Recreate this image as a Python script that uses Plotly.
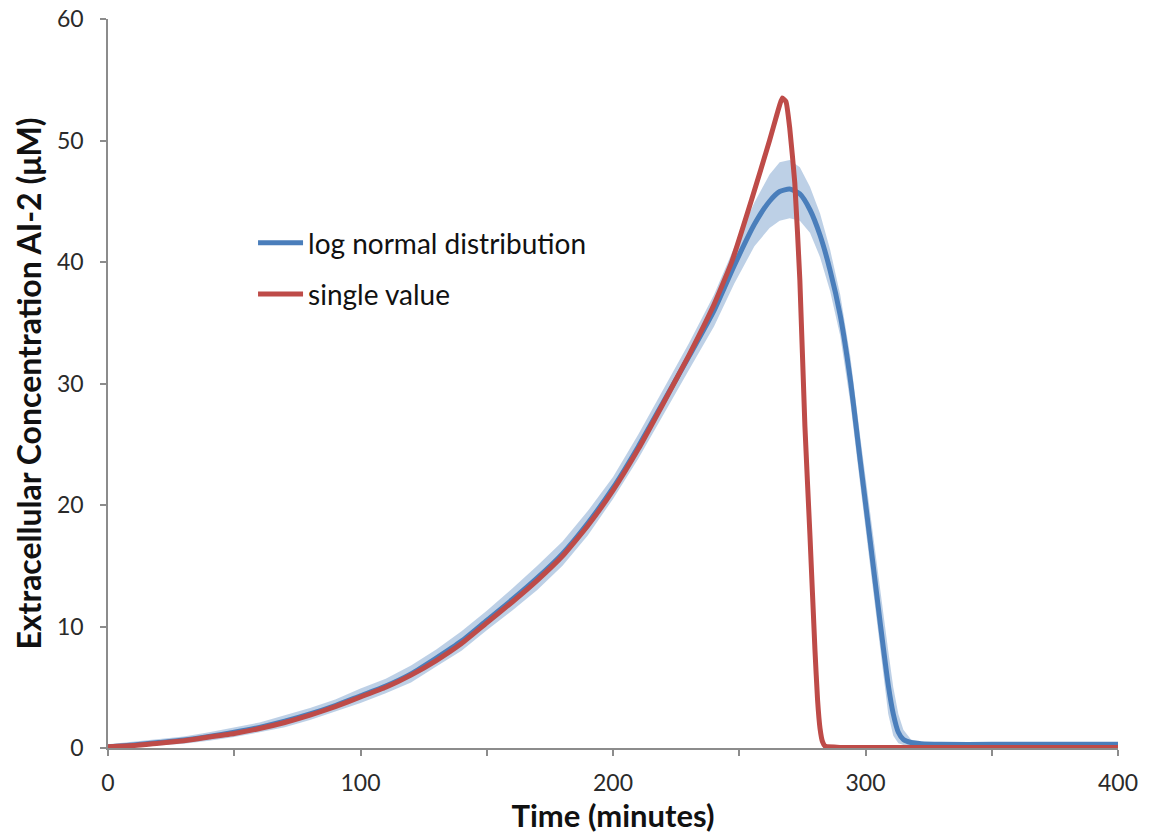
import plotly.graph_objects as go

# ---- data ----
red_t = [0, 10, 20, 30, 40, 50, 60, 70, 80, 90, 100, 110, 120, 130, 140, 150, 160, 170,
         180, 190, 200, 210, 220, 230, 240, 247, 255, 262, 265, 267, 268.5, 270, 272, 274,
         276, 278, 280, 281, 282, 283, 284, 290, 300, 350, 400]
red_v = [0.1, 0.2, 0.4, 0.6, 0.9, 1.2, 1.6, 2.1, 2.7, 3.4, 4.2, 5.0, 6.0, 7.2, 8.6, 10.3, 12.0, 13.8,
         15.8, 18.3, 21.2, 24.6, 28.4, 32.3, 36.5, 40.0, 45.2, 50.0, 52.2, 53.5, 53.2, 51.0, 46.5, 38.5,
         26.5, 17.5, 8.0, 4.0, 1.6, 0.5, 0.15, 0.05, 0.05, 0.05, 0.05]

blue_t = [0, 10, 20, 30, 40, 50, 60, 70, 80, 90, 100, 110, 120, 130, 140, 150, 160, 170,
          180, 190, 200, 210, 220, 230, 240, 248, 256, 262, 266, 270, 274, 278, 282, 286,
          290, 294, 298, 302, 306, 309, 311, 313, 315, 318, 322, 330, 350, 400]
blue_v = [0.1, 0.25, 0.45, 0.65, 0.95, 1.3, 1.7, 2.2, 2.8, 3.5, 4.3, 5.1, 6.1, 7.4, 8.8, 10.5, 12.2, 14.0,
          16.0, 18.5, 21.4, 24.8, 28.5, 32.2, 36.0, 39.7, 43.1, 45.0, 45.8, 46.0, 45.6, 44.3, 42.2, 39.3,
          35.6, 30.3, 23.5, 16.8, 10.0, 5.2, 2.8, 1.3, 0.7, 0.45, 0.35, 0.3, 0.3, 0.3]
blue_hi = [0.3, 0.5, 0.7, 0.95, 1.3, 1.7, 2.1, 2.7, 3.3, 4.0, 4.9, 5.7, 6.8, 8.1, 9.6, 11.3, 13.1, 15.0,
           17.0, 19.5, 22.3, 25.8, 29.5, 33.3, 37.3, 41.2, 44.9, 47.2, 48.2, 48.4, 47.8, 46.2, 44.0, 41.0,
           37.3, 32.2, 25.5, 19.0, 12.5, 8.0, 5.0, 2.8, 1.5, 0.7, 0.5, 0.4, 0.4, 0.4]
blue_lo = [0.0, 0.05, 0.2, 0.35, 0.6, 0.9, 1.3, 1.7, 2.3, 3.0, 3.7, 4.5, 5.4, 6.7, 8.0, 9.7, 11.3, 13.0,
           15.0, 17.5, 20.5, 23.8, 27.5, 31.1, 34.7, 38.2, 41.3, 42.8, 43.4, 43.6, 43.4, 42.4, 40.4, 37.6,
           33.9, 28.4, 21.5, 14.6, 7.5, 2.8, 1.0, 0.4, 0.25, 0.2, 0.2, 0.2, 0.2, 0.2]

x_ticks = [0, 50, 100, 150, 200, 250, 300, 350, 400]
x_labels = ["0", "", "100", "", "200", "", "300", "", "400"]
y_ticks = [0, 10, 20, 30, 40, 50, 60]

BLUE = "#4A7EBB"
RED = "#BE4B48"
BAND = "rgba(185,205,229,0.95)"
FONT = "Lato"

fig = go.Figure()

fig.add_trace(go.Scatter(x=blue_t, y=blue_hi, mode="lines", line=dict(width=0, color=BAND),
                         showlegend=False, hoverinfo="skip"))
fig.add_trace(go.Scatter(x=blue_t, y=blue_lo, mode="lines", line=dict(width=0, color=BAND),
                         fill="tonexty", fillcolor=BAND, showlegend=False, hoverinfo="skip"))
fig.add_trace(go.Scatter(x=blue_t, y=blue_v, mode="lines", name="log normal distribution",
                         line=dict(color=BLUE, width=5, shape="spline", smoothing=0.6),
                         legendgroup="a"))
fig.add_trace(go.Scatter(x=red_t, y=red_v, mode="lines", name="single value",
                         line=dict(color=RED, width=5, shape="spline", smoothing=0.4),
                         legendgroup="b"))

fig.update_layout(
    width=1153, height=834,
    margin=dict(l=108, r=35, t=19, b=86),
    paper_bgcolor="white", plot_bgcolor="white",
    font=dict(family=FONT, color="#222222"),
    showlegend=True,
    legend=dict(x=0.1436, y=0.727, xanchor="left", yanchor="top",
                font=dict(family=FONT, size=28, color="#111111"),
                traceorder="grouped", tracegroupgap=12, itemwidth=45,
                bgcolor="rgba(0,0,0,0)"),
    xaxis=dict(range=[0, 400], tickvals=x_ticks, ticktext=x_labels, automargin=False,
               showgrid=False, zeroline=False, showline=True, linecolor="#8C8C8C", linewidth=1.5,
               ticks="outside", ticklen=6, tickcolor="#8C8C8C", tickwidth=1.5,
               tickfont=dict(family=FONT, size=23, color="#2a2a2a"), ticklabelstandoff=8,
               title=dict(text="<b>Time (minutes)</b>", font=dict(family=FONT, size=31, color="#111111"),
                          standoff=2)),
    yaxis=dict(range=[0, 60], tickvals=y_ticks, automargin=False,
               showgrid=False, zeroline=False, showline=True, linecolor="#8C8C8C", linewidth=1.5,
               ticks="outside", ticklen=6, tickcolor="#8C8C8C", tickwidth=1.5,
               tickfont=dict(family=FONT, size=23, color="#2a2a2a"), ticklabelstandoff=12,
               title=dict(text="<b>Extracellular Concentration AI-2 (\u03bcM)</b>",
                          font=dict(family=FONT, size=32, color="#111111"), standoff=6)),
)

fig.write_html("out.html")
